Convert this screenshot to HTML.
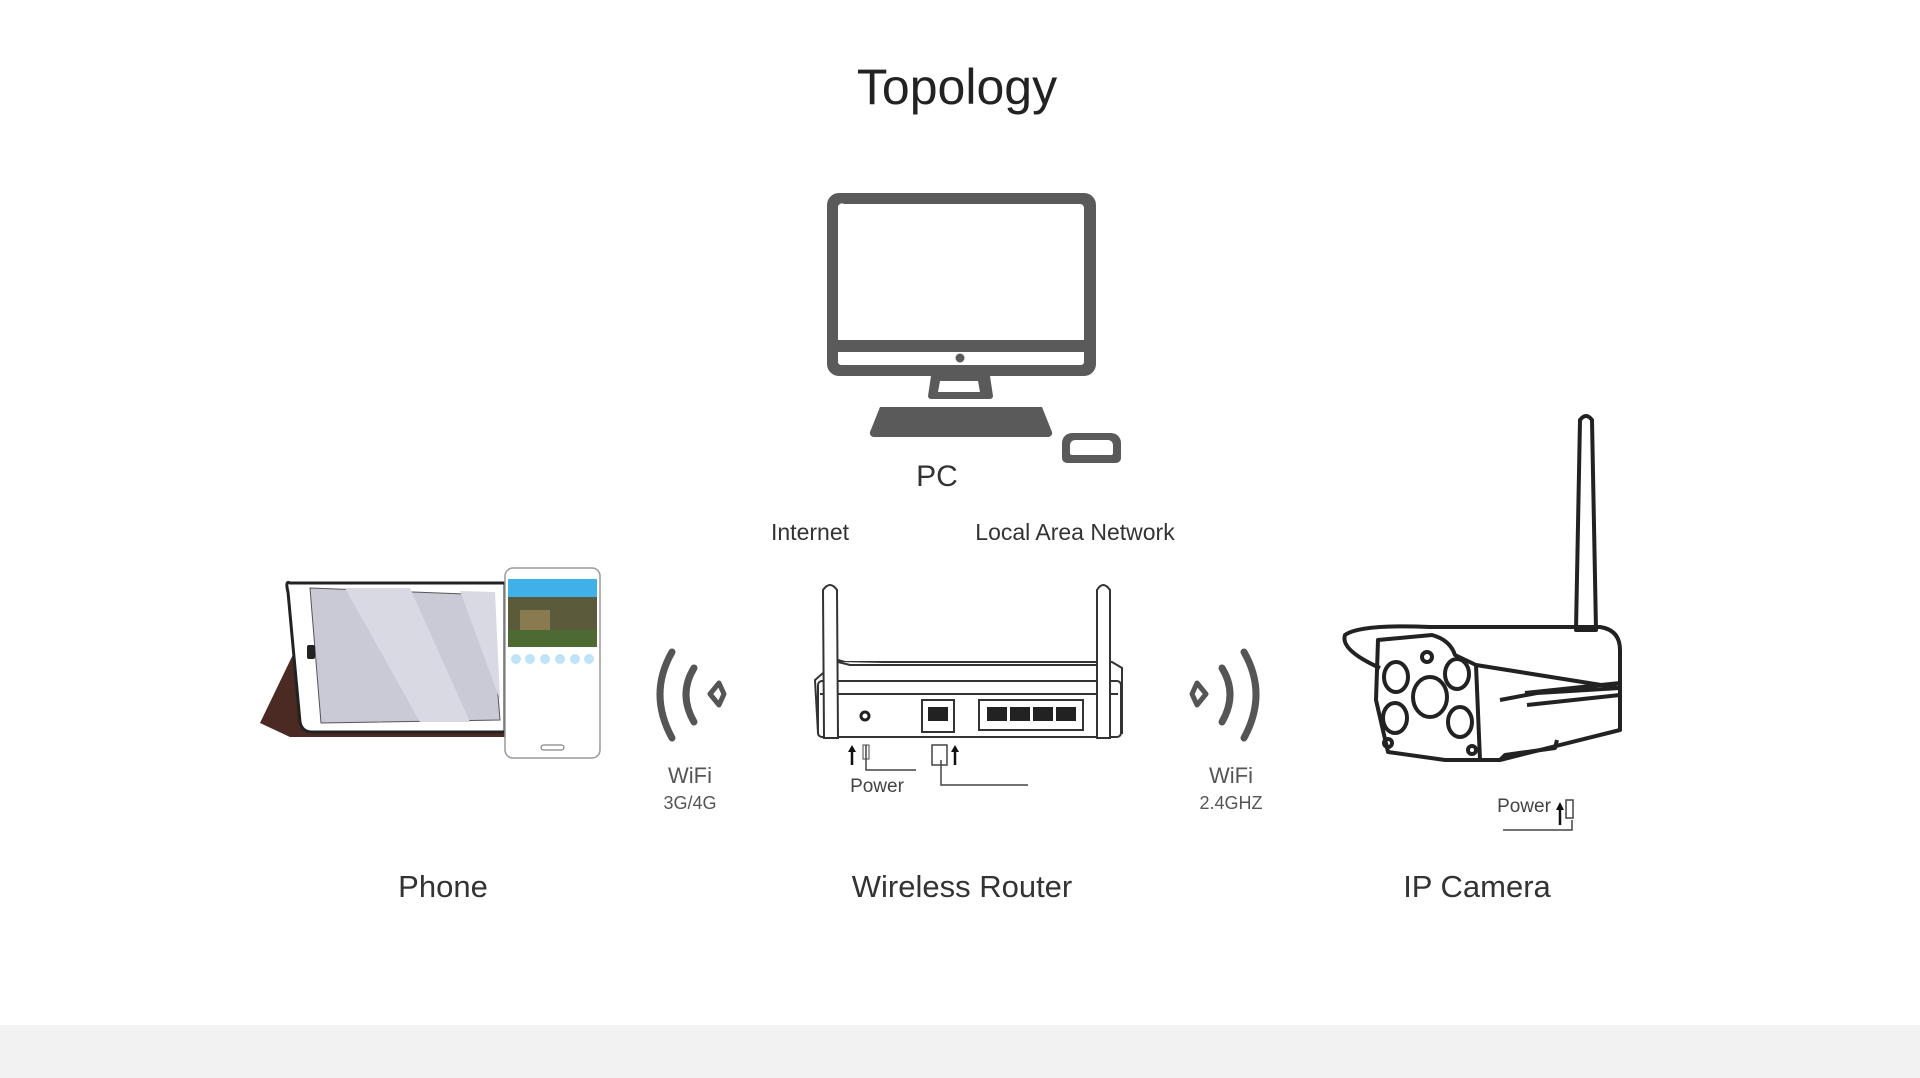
<!DOCTYPE html>
<html><head><meta charset="utf-8"><style>
html,body{margin:0;padding:0;background:#fff;}
body{width:1920px;height:1078px;position:relative;overflow:hidden;font-family:"Liberation Sans",sans-serif;}
.t{position:absolute;color:#333;white-space:nowrap;transform:translateX(-50%);}
</style></head><body>
<div style="position:absolute;left:0;top:1025px;width:1920px;height:53px;background:#f2f2f2"></div>
<div class="t" style="left:957px;top:58px;font-size:50px;color:#222">Topology</div>
<div class="t" style="left:937px;top:460px;font-size:30px">PC</div>
<div class="t" style="left:810px;top:519px;font-size:23px">Internet</div>
<div class="t" style="left:1075px;top:519px;font-size:23px">Local Area Network</div>
<div class="t" style="left:690px;top:763px;font-size:22px;color:#555">WiFi</div>
<div class="t" style="left:690px;top:793px;font-size:18px;color:#555">3G/4G</div>
<div class="t" style="left:1231px;top:763px;font-size:22px;color:#555">WiFi</div>
<div class="t" style="left:1231px;top:793px;font-size:18px;color:#555">2.4GHZ</div>
<div class="t" style="left:877px;top:776px;font-size:19px;color:#444">Power</div>
<div class="t" style="left:1524px;top:796px;font-size:19px;color:#444">Power</div>
<div class="t" style="left:443px;top:869px;font-size:31px">Phone</div>
<div class="t" style="left:962px;top:869px;font-size:31px">Wireless Router</div>
<div class="t" style="left:1477px;top:869px;font-size:31px">IP Camera</div>

<svg width="1920" height="1078" style="position:absolute;left:0;top:0">
<!-- PC -->
<g fill="#5a5a5a">
<path fill-rule="evenodd" d="M839 193H1084A12 12 0 0 1 1096 205V364A12 12 0 0 1 1084 376H839A12 12 0 0 1 827 364V205A12 12 0 0 1 839 193ZM844 204H1080A4 4 0 0 1 1084 208V340H838V208A4 4 0 0 1 844 204ZM838 352H1084V362A3 3 0 0 1 1081 365H841A3 3 0 0 1 838 362Z"/>
<circle cx="960" cy="358" r="4.5"/>
<path fill-rule="evenodd" d="M931 376H990L993 396A3 3 0 0 1 990 399H931A3 3 0 0 1 928 396ZM940 381H978L980 392H938Z"/>
<path d="M880 407H1042L1052 432A4 4 0 0 1 1048 437H874A4 4 0 0 1 870 432Z"/>
<path fill-rule="evenodd" d="M1072 433H1111A10 10 0 0 1 1121 443V458A5 5 0 0 1 1116 463H1067A5 5 0 0 1 1062 458V443A10 10 0 0 1 1072 433ZM1075 440H1108A5 5 0 0 1 1113 445V453A2 2 0 0 1 1111 455H1072A2 2 0 0 1 1070 453V445A5 5 0 0 1 1075 440Z"/>
</g>
<!-- WiFi icons -->
<g fill="none" stroke="#555" stroke-width="7" stroke-linecap="round">
<path d="M672 652Q648 694 672 738"/>
<path d="M694 668Q678 694 694 722"/>
<path d="M1244 652Q1268 694 1244 738"/>
<path d="M1222 668Q1238 694 1222 722"/>
</g>
<path d="M710 694L719 683L724 694L719 705Z" fill="none" stroke="#555" stroke-width="5" stroke-linejoin="round"/>
<path d="M1206 694L1197 683L1192 694L1197 705Z" fill="none" stroke="#555" stroke-width="5" stroke-linejoin="round"/>
<!-- Tablet -->
<path d="M300 640L260 723L290 737L505 737L505 700L330 620Z" fill="#4a2a22"/>
<path d="M290 583Q285 580 288 592L300 722Q302 732 312 732L505 732L505 583Z" fill="#fff" stroke="#222" stroke-width="3"/>
<path d="M310 588L490 595L500 720L321 723Z" fill="#c9cad6" stroke="#555" stroke-width="1"/>
<path d="M345 588L410 588L470 722L420 722Z M460 591L495 592L500 700Z" fill="#d8d9e3"/>
<rect x="307" y="645" width="8" height="14" rx="2" fill="#222"/>
<!-- Phone -->
<rect x="505" y="568" width="95" height="190" rx="8" fill="#fff" stroke="#999" stroke-width="1.5"/>
<rect x="508" y="579" width="89" height="18" fill="#3fb0e8"/>
<rect x="508" y="597" width="89" height="50" fill="#5b5a3a"/>
<rect x="520" y="610" width="30" height="20" fill="#8a7a50"/>
<rect x="508" y="630" width="89" height="17" fill="#4d6a32"/>
<g fill="#bfe3f7"><circle cx="516" cy="659" r="5"/><circle cx="530" cy="659" r="5"/><circle cx="545" cy="659" r="5"/><circle cx="560" cy="659" r="5"/><circle cx="575" cy="659" r="5"/><circle cx="589" cy="659" r="5"/></g>
<rect x="541" y="745" width="23" height="5" rx="2.5" fill="none" stroke="#666"/>
<!-- Router -->
<g fill="#fff" stroke="#333" stroke-width="2">
<path d="M838 660L845 662L1112 662L1122 668L1122 733L818 733L815 680Z"/>
<path d="M838 662L850 665L1100 665L1110 668"/>
<rect x="818" y="681" width="303" height="56" rx="4"/>
<path d="M820 694H1118"/>
<path d="M823 590Q830 580 837 590L838 738L824 738Z"/>
<path d="M1097 590Q1103 580 1110 590L1110 738L1097 738Z"/>
<rect x="922" y="700" width="32" height="32"/>
<rect x="979" y="700" width="104" height="30"/>
</g>
<g fill="#222"><rect x="928" y="707" width="20" height="14"/><rect x="987" y="707" width="20" height="14"/><rect x="1010" y="707" width="20" height="14"/><rect x="1033" y="707" width="20" height="14"/><rect x="1056" y="707" width="20" height="14"/></g>
<circle cx="865" cy="716" r="4" fill="none" stroke="#222" stroke-width="3"/>
<g fill="none" stroke="#444" stroke-width="1.5">
<path d="M866 745V770H916"/><path d="M941 760V785H1028"/>
<rect x="932" y="745" width="15" height="20"/>
</g>
<g stroke="#111" stroke-width="2.5"><path d="M852 765V750M955 765V750"/></g>
<path d="M848 752L852 745L856 752ZM951 752L955 745L959 752Z" fill="#111"/>
<rect x="863" y="745" width="6" height="14" fill="none" stroke="#444"/>
<!-- Camera -->
<g fill="none" stroke="#222" stroke-width="4" stroke-linejoin="round">
<path d="M1580 420Q1586 412 1592 420L1596 630L1576 630Z"/>
<path d="M1380 668Q1340 650 1345 635Q1360 624 1430 627L1600 627Q1620 630 1620 650L1620 688L1537 693L1500 700"/>
<path d="M1378 640L1432 635Q1450 640 1455 655L1476 665L1480 760L1445 760L1388 752L1376 700Z"/>
<path d="M1476 665L1620 688L1620 730L1500 760L1480 760"/>
<path d="M1525 693L1620 683M1527 705L1620 695"/>
<path d="M1500 760L1505 755L1555 748L1557 740"/>
<ellipse cx="1396" cy="677" rx="12" ry="15"/>
<ellipse cx="1457" cy="674" rx="12" ry="15"/>
<ellipse cx="1430" cy="697" rx="17" ry="20"/>
<ellipse cx="1395" cy="718" rx="12" ry="15"/>
<ellipse cx="1460" cy="722" rx="12" ry="15"/>
<circle cx="1427" cy="657" r="5"/>
<circle cx="1388" cy="743" r="4"/>
<circle cx="1472" cy="750" r="4"/>
</g>
<g fill="none" stroke="#444" stroke-width="1.5">
<path d="M1503 830H1572V820"/><rect x="1566" y="800" width="7" height="18"/>
</g>
<path d="M1560 825V808" stroke="#111" stroke-width="2.5"/>
<path d="M1556 810L1560 802L1564 810Z" fill="#111"/>
</svg>
</body></html>
